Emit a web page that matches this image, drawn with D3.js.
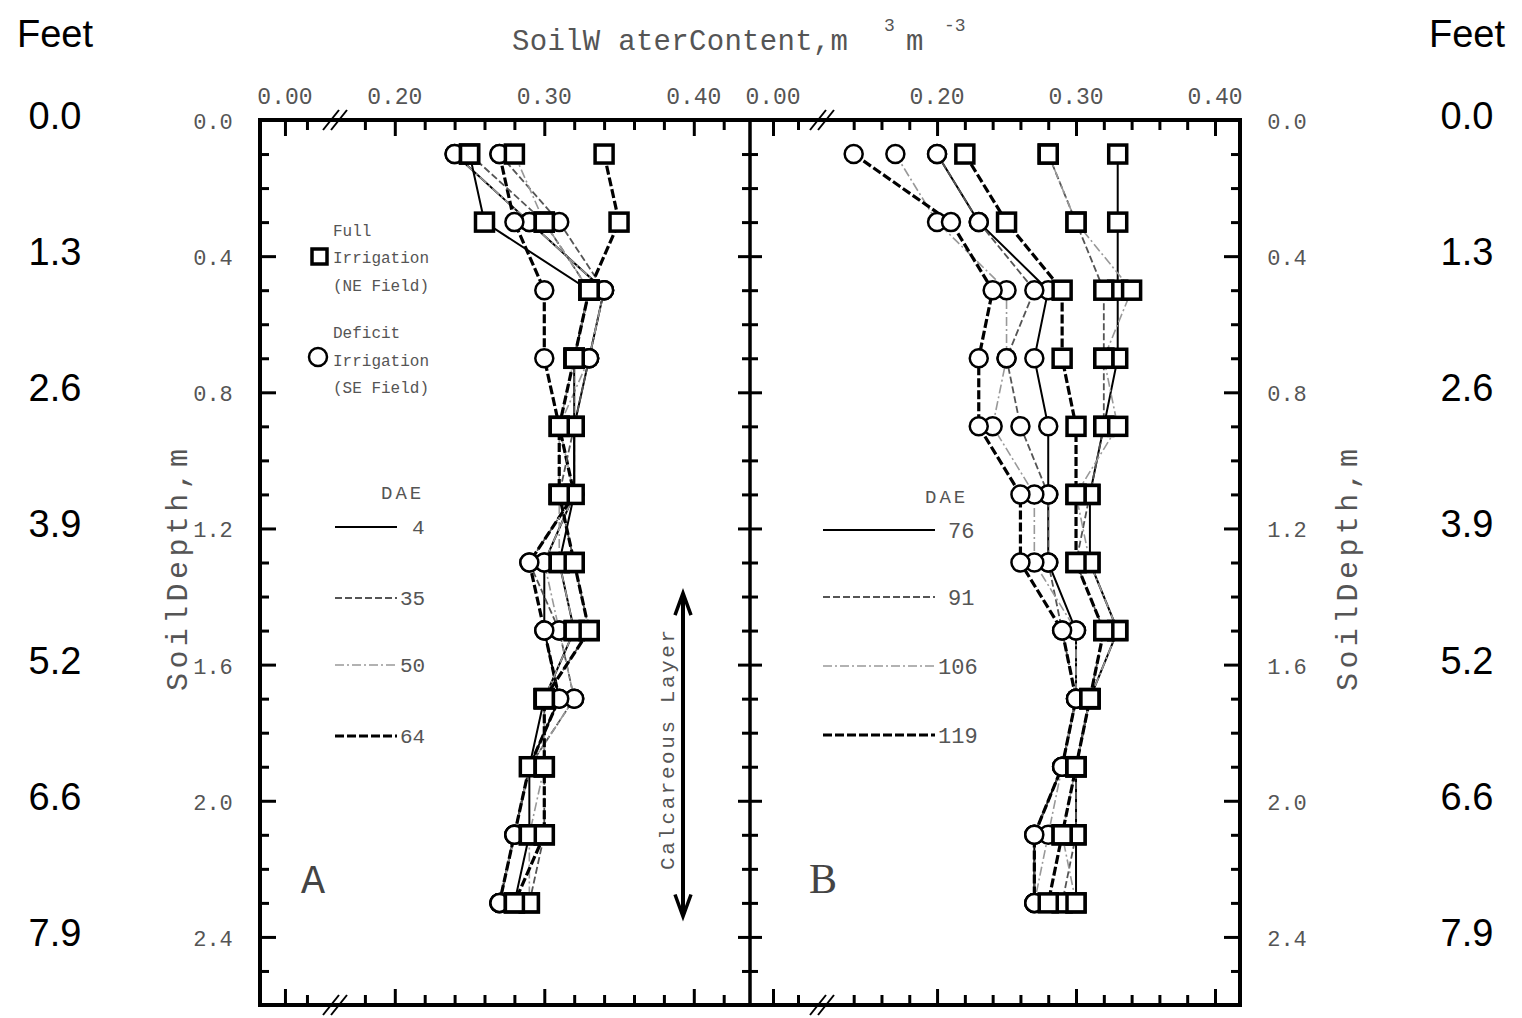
<!DOCTYPE html>
<html>
<head>
<meta charset="utf-8">
<script src="https://cdn.jsdelivr.net/npm/d3@7"></script>
<style>
  body { margin: 0; background: #fff; }
  svg { display: block; }
</style>
</head>
<body>
<svg id="chart" width="1522" height="1018"></svg>
<script>
// ---- data ----
const depths = [0.1, 0.3, 0.5, 0.7, 0.9, 1.1, 1.3, 1.5, 1.7, 1.9, 2.1, 2.3];
const depthTicks = [0, 0.4, 0.8, 1.2, 1.6, 2.0, 2.4];
const depthTickLabels = ["0.0", "0.4", "0.8", "1.2", "1.6", "2.0", "2.4"];
const feetLabels = ["0.0", "1.3", "2.6", "3.9", "5.2", "6.6", "7.9"];
const waterTicks = [0, 0.2, 0.3, 0.4];
const waterTickLabels = ["0.00", "0.20", "0.30", "0.40"];

const daeA = ["4", "35", "50", "64"];
const daeB = ["76", "91", "106", "119"];

// Panel A, full irrigation (NE field), one array per DAE
const fullA4  = [0.25, 0.26, 0.33, 0.32, 0.32, 0.32, 0.31, 0.32, 0.30, 0.29, 0.29, 0.28];
const fullA35 = [0.25, 0.30, 0.33, 0.32, 0.32, 0.31, 0.32, 0.33, 0.30, 0.30, 0.30, 0.29];
const fullA50 = [0.28, 0.30, 0.33, 0.32, 0.31, 0.31, 0.31, 0.32, 0.30, 0.30, 0.29, 0.29];
const fullA64 = [0.34, 0.35, 0.33, 0.32, 0.31, 0.31, 0.32, 0.33, 0.30, 0.30, 0.30, 0.28];
// Panel A, deficit irrigation (SE field)
const defA4  = [0.24, 0.29, 0.34, 0.33, 0.32, 0.32, 0.30, 0.30, 0.31, 0.29, 0.28, 0.27];
const defA35 = [0.27, 0.31, 0.34, 0.33, 0.32, 0.32, 0.29, 0.31, 0.32, 0.29, 0.28, 0.27];
const defA50 = [0.24, 0.29, 0.34, 0.33, 0.31, 0.32, 0.30, 0.31, 0.32, 0.29, 0.28, 0.27];
const defA64 = [0.27, 0.28, 0.30, 0.30, 0.31, 0.32, 0.29, 0.30, 0.31, 0.29, 0.28, 0.27];

// Panel B, full irrigation (NE field)
const fullB76  = [0.33, 0.33, 0.33, 0.33, 0.32, 0.31, 0.31, 0.33, 0.31, 0.30, 0.30, 0.30];
const fullB91  = [0.28, 0.30, 0.32, 0.32, 0.32, 0.31, 0.30, 0.32, 0.31, 0.30, 0.30, 0.29];
const fullB106 = [0.28, 0.30, 0.34, 0.32, 0.33, 0.30, 0.31, 0.33, 0.31, 0.30, 0.29, 0.30];
const fullB119 = [0.22, 0.25, 0.29, 0.29, 0.30, 0.30, 0.30, 0.32, 0.31, 0.30, 0.29, 0.28];
// Panel B, deficit irrigation (SE field)
const defB76  = [0.20, 0.23, 0.28, 0.27, 0.28, 0.28, 0.28, 0.30, 0.30, 0.29, 0.27, 0.27];
const defB91  = [0.20, 0.23, 0.27, 0.25, 0.26, 0.28, 0.28, 0.29, 0.30, 0.29, 0.27, 0.27];
const defB106 = [0.17, 0.20, 0.25, 0.25, 0.24, 0.27, 0.27, 0.30, 0.30, 0.29, 0.28, 0.27];
const defB119 = [0.14, 0.21, 0.24, 0.23, 0.23, 0.26, 0.26, 0.29, 0.30, 0.29, 0.27, 0.27];

// ---- line styles per DAE rank ----
const lineStyles = [
  { stroke: "#000", width: 2.0, dash: null },
  { stroke: "#555", width: 1.8, dash: "7,3" },
  { stroke: "#999", width: 1.6, dash: "9,3,2,3" },
  { stroke: "#000", width: 3.2, dash: "9,3" }
];

const svg = d3.select("#chart");
const frameTop = 120, frameBottom = 1005, frameLeft = 260, frameMid = 750, frameRight = 1240;
const monoFont = "'Liberation Mono', 'DejaVu Sans Mono', monospace";
const grey = "#555";

const y = d3.scaleLinear().domain([0, 2.6]).range([frameTop, frameBottom]);
// Broken water-content axes: a short segment around 0.00, then the main range
const xA = d3.scaleLinear().domain([-0.0227, 0.0455, 0.16, 0.4376]).range([frameLeft, 335, 335, frameMid]);
const xB = d3.scaleLinear().domain([-0.0184, 0.0392, 0.1172, 0.418]).range([frameMid, 822, 822, frameRight]);

const panels = [
  { x: xA, brk: 0.0455, minorLeft: [0, 0.02], minorRight: d3.range(0.18, 0.43, 0.02).map(v => +v.toFixed(2)),
    full: [fullA4, fullA35, fullA50, fullA64], def: [defA4, defA35, defA50, defA64] },
  { x: xB, brk: 0.0392, minorLeft: [0, 0.02], minorRight: d3.range(0.14, 0.41, 0.02).map(v => +v.toFixed(2)),
    full: [fullB76, fullB91, fullB106, fullB119], def: [defB76, defB91, defB106, defB119] }
];

const isMajor = v => [0, 0.2, 0.3, 0.4].some(m => Math.abs(m - v) < 1e-6);

// ---- ticks on horizontal axes ----
panels.forEach(p => {
  const vals = p.minorLeft.concat(p.minorRight);
  const minor = vals.filter(v => !isMajor(v));
  const major = vals.filter(isMajor);
  [[minor, 10], [major, 16]].forEach(([tv, len]) => {
    svg.append("g").attr("transform", `translate(0,${frameTop})`)
      .call(d3.axisTop(p.x).tickValues(tv).tickSize(-len).tickFormat(""))
      .call(g => g.select(".domain").remove())
      .selectAll("line").attr("stroke", "#000").attr("stroke-width", 3);
    svg.append("g").attr("transform", `translate(0,${frameBottom})`)
      .call(d3.axisBottom(p.x).tickValues(tv).tickSize(-len).tickFormat(""))
      .call(g => g.select(".domain").remove())
      .selectAll("line").attr("stroke", "#000").attr("stroke-width", 3);
  });
  // top labels
  svg.append("g").selectAll("text").data(waterTicks).join("text")
    .attr("x", d => p.x(d)).attr("y", 104)
    .attr("text-anchor", "middle")
    .attr("font-family", monoFont).attr("font-size", 23).attr("fill", grey)
    .text((d, i) => waterTickLabels[i]);
  // break marks on top and bottom edges
  const bx = p.x(p.brk);
  [frameTop, frameBottom].forEach(by => {
    [-4, 4].forEach(off => {
      svg.append("line")
        .attr("x1", bx + off - 8).attr("y1", by + 10)
        .attr("x2", bx + off + 8).attr("y2", by - 10)
        .attr("stroke", "#000").attr("stroke-width", 2);
    });
  });
});

// ---- ticks on vertical axes ----
const depthMinor = d3.range(1, 26).map(i => i / 10).filter(d => !depthTicks.some(t => Math.abs(t - d) < 1e-6));
const depthMajor = depthTicks.slice(1);
function vTicks(xPos, axisFn, vals, len) {
  svg.append("g").attr("transform", `translate(${xPos},0)`)
    .call(axisFn(y).tickValues(vals).tickSize(len).tickFormat(""))
    .call(g => g.select(".domain").remove())
    .selectAll("line").attr("stroke", "#000").attr("stroke-width", 3);
}
vTicks(frameLeft, d3.axisLeft, depthMinor, -9);
vTicks(frameLeft, d3.axisLeft, depthMajor, -16);
vTicks(frameRight, d3.axisRight, depthMinor, -9);
vTicks(frameRight, d3.axisRight, depthMajor, -16);
// center divider: ticks crossing both sides
vTicks(frameMid - 8, d3.axisRight, depthMinor, 16);
vTicks(frameMid - 12, d3.axisRight, depthMajor, 24);

// depth labels
[213, 1287].forEach(cx => {
  svg.append("g").selectAll("text").data(depthTicks).join("text")
    .attr("x", cx).attr("y", d => y(d) + 9)
    .attr("text-anchor", "middle")
    .attr("font-family", monoFont).attr("font-size", 22).attr("fill", grey)
    .text((d, i) => depthTickLabels[i]);
});

// feet labels
[55, 1467].forEach(cx => {
  svg.append("text").attr("x", cx).attr("y", 47).attr("text-anchor", "middle")
    .attr("font-family", "'Liberation Sans', Arial, sans-serif").attr("font-size", 38).attr("fill", "#000")
    .text("Feet");
  svg.append("g").selectAll("text").data(depthTicks).join("text")
    .attr("x", cx).attr("y", d => y(d) + 9)
    .attr("text-anchor", "middle")
    .attr("font-family", "'Liberation Sans', Arial, sans-serif").attr("font-size", 38).attr("fill", "#000")
    .text((d, i) => feetLabels[i]);
});

// axis titles
svg.append("text").attr("x", 512).attr("y", 50)
  .attr("font-family", monoFont).attr("font-size", 29).attr("fill", grey)
  .attr("textLength", 336).attr("lengthAdjust", "spacing")
  .text("SoilW aterContent,m");
svg.append("text").attr("x", 884).attr("y", 31).attr("font-family", monoFont).attr("font-size", 18).attr("fill", grey).text("3");
svg.append("text").attr("x", 906).attr("y", 50).attr("font-family", monoFont).attr("font-size", 29).attr("fill", grey).text("m");
svg.append("text").attr("x", 944).attr("y", 31).attr("font-family", monoFont).attr("font-size", 18).attr("fill", grey).text("-3");

[[176, 570], [1346, 570]].forEach(([cx, cy]) => {
  svg.append("text").attr("transform", `translate(${cx},${cy}) rotate(-90)`)
    .attr("text-anchor", "middle").attr("dy", "0.35em")
    .attr("font-family", monoFont).attr("font-size", 30).attr("fill", grey)
    .attr("textLength", 242).attr("lengthAdjust", "spacing")
    .text("SoilDepth,m");
});

// frame and divider
svg.append("rect").attr("x", frameLeft).attr("y", frameTop)
  .attr("width", frameRight - frameLeft).attr("height", frameBottom - frameTop)
  .attr("fill", "none").attr("stroke", "#000").attr("stroke-width", 4);
svg.append("line").attr("x1", frameMid).attr("x2", frameMid).attr("y1", frameTop).attr("y2", frameBottom)
  .attr("stroke", "#000").attr("stroke-width", 3.5);

// ---- profiles ----
function styleLine(sel, s) {
  sel.attr("fill", "none").attr("stroke", s.stroke).attr("stroke-width", s.width)
    .attr("stroke-dasharray", s.dash);
}
panels.forEach(p => {
  const line = d3.line().x(d => p.x(d[0])).y(d => y(d[1]));
  const g = svg.append("g");
  [p.def, p.full].forEach(group => {
    group.forEach((vals, i) => {
      const pts = vals.map((v, k) => [v, depths[k]]);
      styleLine(g.append("path").attr("d", line(pts)), lineStyles[i]);
    });
  });
  p.def.forEach(vals => {
    g.append("g").selectAll("circle").data(vals).join("circle")
      .attr("cx", d => p.x(d)).attr("cy", (d, k) => y(depths[k])).attr("r", 9)
      .attr("fill", "#fff").attr("stroke", "#000").attr("stroke-width", 2.5);
  });
  p.full.forEach(vals => {
    g.append("g").selectAll("rect").data(vals).join("rect")
      .attr("x", d => p.x(d) - 9).attr("y", (d, k) => y(depths[k]) - 9)
      .attr("width", 18).attr("height", 18)
      .attr("fill", "#fff").attr("stroke", "#000").attr("stroke-width", 3.5);
  });
});

// ---- legend, panel A ----
const legFont = { "font-family": monoFont, "font-size": 16, fill: grey };
function txt(x0, y0, s, attrs) {
  const t = svg.append("text").attr("x", x0).attr("y", y0).text(s);
  Object.entries(attrs).forEach(([k, v]) => t.attr(k, v));
  return t;
}
svg.append("rect").attr("x", 312).attr("y", 249).attr("width", 15).attr("height", 15)
  .attr("fill", "#fff").attr("stroke", "#000").attr("stroke-width", 3.5);
txt(333, 236, "Full", legFont);
txt(333, 263, "Irrigation", legFont);
txt(333, 291, "(NE Field)", legFont);
svg.append("circle").attr("cx", 318).attr("cy", 357).attr("r", 9)
  .attr("fill", "#fff").attr("stroke", "#000").attr("stroke-width", 2.5);
txt(333, 338, "Deficit", legFont);
txt(333, 366, "Irrigation", legFont);
txt(333, 393, "(SE Field)", legFont);

const legRowsY = [527, 598, 665, 736];
txt(381, 499, "DAE", { "font-family": monoFont, "font-size": 19, fill: grey, "letter-spacing": 3 });
daeA.forEach((lab, i) => {
  styleLine(svg.append("line").attr("x1", 335).attr("x2", 397).attr("y1", legRowsY[i]).attr("y2", legRowsY[i]), lineStyles[i]);
  txt(i === 0 ? 412 : 400, legRowsY[i] + 7, lab, { "font-family": monoFont, "font-size": 21, fill: grey });
});

// ---- legend, panel B ----
const legRowsYB = [530, 597, 666, 735];
txt(925, 503, "DAE", { "font-family": monoFont, "font-size": 19, fill: grey, "letter-spacing": 3 });
daeB.forEach((lab, i) => {
  styleLine(svg.append("line").attr("x1", 823).attr("x2", 935).attr("y1", legRowsYB[i]).attr("y2", legRowsYB[i]), lineStyles[i]);
  txt(i < 2 ? 948 : 938, legRowsYB[i] + 8, lab, { "font-family": monoFont, "font-size": 22, fill: grey });
});

// ---- calcareous layer marker ----
const ax = 683, ay1 = y(1.39), ay2 = y(2.34);
svg.append("line").attr("x1", ax).attr("x2", ax).attr("y1", ay1 + 2).attr("y2", ay2 - 2)
  .attr("stroke", "#000").attr("stroke-width", 4);
svg.append("path").attr("d", `M${ax - 8},${ay1 + 22} L${ax},${ay1} L${ax + 8},${ay1 + 22}`)
  .attr("fill", "none").attr("stroke", "#000").attr("stroke-width", 3.5);
svg.append("path").attr("d", `M${ax - 8},${ay2 - 22} L${ax},${ay2} L${ax + 8},${ay2 - 22}`)
  .attr("fill", "none").attr("stroke", "#000").attr("stroke-width", 3.5);
svg.append("text").attr("transform", `translate(667,750) rotate(-90)`)
  .attr("text-anchor", "middle").attr("dy", "0.35em")
  .attr("font-family", monoFont).attr("font-size", 21).attr("fill", grey)
  .attr("textLength", 240).attr("lengthAdjust", "spacing")
  .text("Calcareous Layer");

// panel letters
txt(313, 893, "A", { "font-family": monoFont, "font-size": 40, fill: "#444", "text-anchor": "middle" });
txt(823, 893, "B", { "font-family": "'Liberation Serif', serif", "font-size": 42, fill: "#444", "text-anchor": "middle" });
</script>
</body>
</html>
